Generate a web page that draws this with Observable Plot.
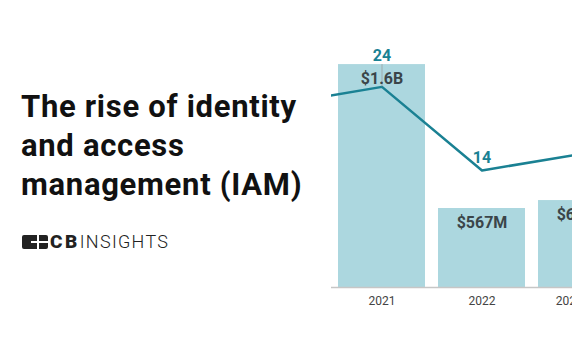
<!DOCTYPE html>
<html>
<head>
<meta charset="utf-8">
<script src="https://cdn.jsdelivr.net/npm/d3@7"></script>
<script src="https://cdn.jsdelivr.net/npm/@observablehq/plot@0.6"></script>
<style>
  html, body { margin: 0; padding: 0; background: #fff; }
  body { width: 572px; height: 364px; overflow: hidden; position: relative; font-family: Roboto, sans-serif; }
  #title { position: absolute; left: 21px; top: 87px; font-size: 31px; font-weight: 700; line-height: 39px; letter-spacing: 0.7px; color: #111; margin: 0; z-index: 2; white-space: nowrap; }
  #logo { position: absolute; left: 22px; top: 233px; display: flex; align-items: center; z-index: 2; color: #222; }
  #logo .cb { font-size: 19px; font-weight: 900; letter-spacing: 2.5px; margin-left: 2px; line-height: 18px; }
  #logo .ins { font-size: 18px; font-weight: 300; letter-spacing: 1.3px; line-height: 18px; }
  #chart { position: absolute; left: 0; top: 0; width: 640px; z-index: 1; }
  #chart svg { max-width: none !important; }
</style>
</head>
<body>
<div id="title">The rise of identity<br>and access<br>management (IAM)</div>
<div id="logo">
  <svg width="26" height="14" viewBox="0 0 26 14">
    <rect x="0" y="0" width="26" height="14" rx="2" fill="#222"/>
    <rect x="15" y="0" width="2" height="14" fill="#fff"/>
    <rect x="15" y="6" width="11" height="2" fill="#fff"/>
    <rect x="9" y="6" width="6" height="2" fill="#fff"/>
  </svg>
  <span class="cb">CB</span><span class="ins">INSIGHTS</span>
</div>
<div id="chart"></div>
<script>
// Deal count (line) by year
const years = [2020, 2021, 2022, 2023];
const deals = [22, 24, 14, 16];
// Funding (bars), $M
const fundingYears = [2021, 2022, 2023];
const funding = [1600, 567, 624];
const fundingLabels = ["$1.6B", "$567M", "$624M"];
// x tick labels
const tickLabels = ["2021", "2022", "2023 YTD"];

const K = 60; // deals drawn on the funding axis (secondary axis scale)
const dealData = years.map((year, i) => ({year, deals: deals[i]}));
const fundingData = fundingYears.map((year, i) => ({
  year, funding: funding[i], label: fundingLabels[i], deals: deals[years.indexOf(year)]
}));
// deal-count labels: above the point, or above the bar when the bar is taller
const abovePoint = fundingData.filter(d => d.deals * K >= d.funding);
const aboveBar = fundingData.filter(d => d.deals * K < d.funding);

const teal = "#1a8193";
const chart = Plot.plot({
  width: 640,
  height: 364,
  marginLeft: 331,
  marginRight: 0,
  marginTop: 0,
  marginBottom: 77,
  x: {type: "band", domain: years, range: [224, 639.5], paddingInner: 0.134, paddingOuter: 0.134, axis: null, label: null},
  y: {domain: [0, 2060], axis: null},
  style: {fontFamily: "Roboto, sans-serif", background: "transparent", overflow: "visible", maxWidth: "none"},
  marks: [
    Plot.barY(fundingData, {x: "year", y: "funding", fill: "#acd7df"}),
    Plot.ruleY([0], {stroke: "#c6c6c6", strokeWidth: 1.3}),
    Plot.axisX({
      ticks: fundingYears,
      tickSize: 0,
      tickPadding: 9,
      fontSize: 12,
      color: "#444",
      label: null,
      tickFormat: d => tickLabels[fundingYears.indexOf(d)]
    }),
    Plot.lineY(dealData, {x: "year", y: d => d.deals * K, stroke: teal, strokeWidth: 2.5, clip: true}),
    Plot.ruleX(aboveBar, {
      x: "year",
      y1: d => d.deals * K,
      y2: "funding",
      stroke: "#9a9a9a",
      strokeWidth: 0.7
    }),
    Plot.text(fundingData, {
      x: "year", y: "funding", text: "label", dy: 14,
      fontSize: 16, fontWeight: 700, fill: "#3b4549"
    }),
    Plot.text(abovePoint, {
      x: "year", y: d => d.deals * K, text: d => String(d.deals), dy: -13,
      fontSize: 16, fontWeight: 700, fill: teal
    }),
    Plot.text(aboveBar, {
      x: "year", y: "funding", text: d => String(d.deals), dy: -9,
      fontSize: 16, fontWeight: 700, fill: teal
    })
  ]
});
document.getElementById("chart").appendChild(chart);
</script>
</body>
</html>
